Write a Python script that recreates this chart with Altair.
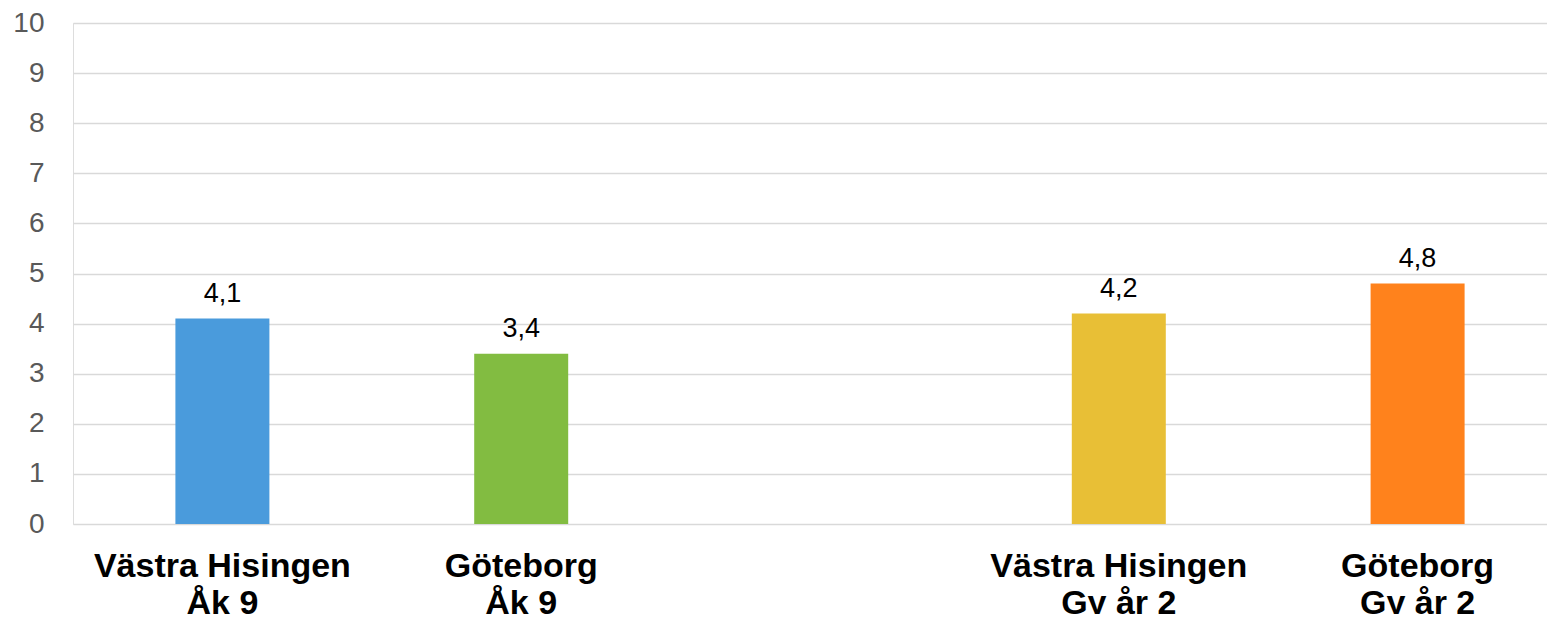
import altair as alt
import pandas as pd

# slots on the x axis (the third one is an empty gap between the two groups)
slots = ["Västra Hisingen\nÅk 9", "Göteborg\nÅk 9", "gap",
         "Västra Hisingen\nGy år 2", "Göteborg\nGy år 2"]
categories = ["Västra Hisingen\nÅk 9", "Göteborg\nÅk 9",
              "Västra Hisingen\nGy år 2", "Göteborg\nGy år 2"]
values = [4.1, 3.4, 4.2, 4.8]
colors = ["#4A9BDC", "#82BC41", "#E8BF36", "#FF821C"]
y_ticks = list(range(0, 11))

df = pd.DataFrame({"cat": categories, "value": values})

FONT = "Liberation Sans"

xscale = alt.Scale(domain=slots, range=[0, 1494], paddingInner=0, paddingOuter=0)

x = alt.X(
    "cat:N",
    scale=xscale,
    axis=alt.Axis(
        title=None,
        labelAngle=0,
        labelExpr="datum.value == 'gap' ? '' : split(datum.value, '\\n')",
        labelFont=FONT,
        labelFontSize=34,
        labelFontWeight="bold",
        labelColor="#000000",
        labelBaseline="alphabetic",
        labelLineHeight=37,
        labelPadding=52,
        labelLimit=0,
        labelOverlap=False,
        ticks=False,
        tickSize=0,
        domain=False,
        grid=False,
    ),
)

y = alt.Y(
    "value:Q",
    scale=alt.Scale(domain=[0, 10], nice=False),
    axis=alt.Axis(
        title=None,
        values=y_ticks,
        labelFont=FONT,
        labelFontSize=28,
        labelColor="#595959",
        labelPadding=29,
        ticks=False,
        tickSize=0,
        domain=False,
        grid=True,
        gridColor="#D9D9D9",
        gridWidth=1.5,
    ),
)

bars = alt.Chart(df).mark_bar(size=94).encode(
    x=x,
    y=y,
    color=alt.Color("cat:N", scale=alt.Scale(domain=categories, range=colors), legend=None),
)

labels = alt.Chart(df).transform_calculate(
    lab="replace(format(datum.value, '.1f'), '.', ',')"
).mark_text(
    font=FONT, fontSize=27, color="#000000", baseline="alphabetic", dy=-17
).encode(
    x=alt.X("cat:N", scale=xscale),
    y=alt.Y("value:Q"),
    text="lab:N",
)

chart = alt.layer(bars, labels).properties(
    width=1474,
    height=501,
    autosize=alt.AutoSizeParams(type="none"),
    padding={"left": 65, "top": 15, "right": 0, "bottom": 90},
).configure_view(stroke=None).configure(background="#ffffff")

chart.save("out.html", embed_options={"renderer": "svg", "actions": False})
